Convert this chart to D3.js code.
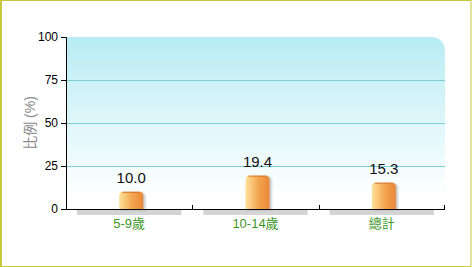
<!DOCTYPE html>
<html>
<head>
<meta charset="utf-8">
<script src="https://cdn.jsdelivr.net/npm/d3@7"></script>
<style>
  html, body { margin: 0; padding: 0; background: #fff; }
  svg { display: block; font-family: "Liberation Sans", Arial, "Noto Sans CJK TC", sans-serif; }
</style>
</head>
<body>
<div id="chart"></div>
<script>
// chart data
var categories = ['5-9歲', '10-14歲', '總計'];
var values = [10.0, 19.4, 15.3];
var yTicks = [0, 25, 50, 75, 100];
var yTitle = '比例 (%)';

var gConfig = {
    width : 472,
    height : 267,
    margin : { top : 37, right : 27, bottom : 58, left : 66 }
};

function drawChart(){
    var w = gConfig.width, h = gConfig.height, m = gConfig.margin;
    var plotW = w - m.left - m.right,
        plotH = h - m.top - m.bottom;

    var svg = d3.select('#chart').append('svg')
        .attr('width', w)
        .attr('height', h);

    var defs = svg.append('defs');

    var bg = defs.append('linearGradient').attr('id', 'bg-grad')
        .attr('x1', 0).attr('y1', 0).attr('x2', 0).attr('y2', 1);
    bg.append('stop').attr('offset', '0%').attr('stop-color', '#b8ecf3');
    bg.append('stop').attr('offset', '92%').attr('stop-color', '#ffffff');

    var barGrad = defs.append('linearGradient').attr('id', 'bar-grad')
        .attr('x1', 0).attr('y1', 0).attr('x2', 1).attr('y2', 0);
    barGrad.append('stop').attr('offset', '0%').attr('stop-color', '#fde29a');
    barGrad.append('stop').attr('offset', '55%').attr('stop-color', '#f3a44e');
    barGrad.append('stop').attr('offset', '100%').attr('stop-color', '#e8883a');

    var blur = defs.append('filter').attr('id', 'shadow')
        .attr('x', '-50%').attr('y', '-20%').attr('width', '200%').attr('height', '140%');
    blur.append('feGaussianBlur').attr('stdDeviation', 1);

    // outer border
    svg.append('rect')
        .attr('x', 0.5).attr('y', 0.5)
        .attr('width', w - 1.5).attr('height', h - 1)
        .attr('fill', 'none')
        .attr('stroke', '#c8c83c')
        .attr('stroke-width', 1);
    svg.append('line')
        .attr('x1', 1.5).attr('x2', 1.5).attr('y1', 0).attr('y2', h)
        .attr('stroke', '#c8c83c');

    var x = d3.scaleBand().domain(categories).range([0, plotW]);
    var y = d3.scaleLinear().domain([0, 100]).range([plotH, 0]);

    var g = svg.append('g').attr('transform', 'translate(' + m.left + ',' + m.top + ')');

    // background with rounded top-right corner
    var r = 15;
    g.append('path')
        .attr('d', 'M0,0 H' + (plotW - r) + ' Q' + plotW + ',0 ' + plotW + ',' + r +
                   ' V' + plotH + ' H0 Z')
        .attr('fill', 'url(#bg-grad)');

    // gridlines
    g.selectAll('.grid').data(yTicks.filter(function(d){ return d > 0 && d < 100; }))
        .enter().append('line')
        .attr('x1', 0).attr('x2', plotW)
        .attr('y1', function(d){ return Math.round(y(d)) + 0.5; })
        .attr('y2', function(d){ return Math.round(y(d)) + 0.5; })
        .attr('stroke', '#7ccfd8');

    // grey strips under each category
    g.selectAll('.strip').data(categories)
        .enter().append('rect')
        .attr('x', function(d){ return x(d) + 11; })
        .attr('y', plotH + 1)
        .attr('width', x.bandwidth() - 22)
        .attr('height', 5)
        .attr('fill', '#d4d4d4');

    var barW = 24;
    var bars = g.selectAll('.bar').data(values).enter().append('g');

    function barPath(d, i, rad){
        var x0 = x(categories[i]) + x.bandwidth() / 2 - barW / 2 + 2,
            y0 = y(d), x1 = x0 + barW, y1 = plotH;
        return 'M' + x0 + ',' + y1 + ' V' + (y0 + rad) +
               ' Q' + x0 + ',' + y0 + ' ' + (x0 + rad) + ',' + y0 +
               ' H' + (x1 - rad) + ' Q' + x1 + ',' + y0 + ' ' + x1 + ',' + (y0 + rad) +
               ' V' + y1 + ' Z';
    }

    bars.append('path')
        .attr('d', function(d, i){ return barPath(d, i, 4); })
        .attr('transform', 'translate(2,1)')
        .attr('fill', '#999')
        .attr('opacity', 0.6)
        .attr('filter', 'url(#shadow)');

    bars.append('path')
        .attr('d', function(d, i){ return barPath(d, i, 4); })
        .attr('fill', 'url(#bar-grad)');

    bars.append('line')
        .attr('x1', function(d, i){ return x(categories[i]) + x.bandwidth() / 2 - barW / 2 + 5; })
        .attr('x2', function(d, i){ return x(categories[i]) + x.bandwidth() / 2 + barW / 2 - 1; })
        .attr('y1', function(d){ return y(d) + 0.5; })
        .attr('y2', function(d){ return y(d) + 0.5; })
        .attr('stroke', '#d9772e')
        .attr('stroke-width', 1);

    // value labels
    g.selectAll('.val').data(values)
        .enter().append('text')
        .attr('x', function(d, i){ return x(categories[i]) + x.bandwidth() / 2 + 2; })
        .attr('y', function(d){ return y(d) - 9; })
        .attr('text-anchor', 'middle')
        .attr('font-size', '15px')
        .attr('fill', '#111')
        .text(function(d){ return d.toFixed(1); });

    // y axis
    var yAxis = g.append('g')
        .call(d3.axisLeft(y).tickValues(yTicks).tickSize(5).tickPadding(3));
    yAxis.select('.domain').attr('stroke', '#000');
    yAxis.selectAll('.tick line').attr('stroke', '#000');
    yAxis.selectAll('.tick text')
        .attr('font-size', '12px')
        .attr('font-family', '"Liberation Sans", Arial, sans-serif')
        .attr('fill', '#000');

    // x axis line and inner ticks
    g.append('line')
        .attr('x1', 0).attr('x2', plotW)
        .attr('y1', plotH + 0.5).attr('y2', plotH + 0.5)
        .attr('stroke', '#000');
    g.selectAll('.xtick').data(categories.slice(1).concat(['end']))
        .enter().append('line')
        .attr('x1', function(d){ return d === 'end' ? plotW - 0.5 : Math.round(x(d)) + 0.5; })
        .attr('x2', function(d){ return d === 'end' ? plotW - 0.5 : Math.round(x(d)) + 0.5; })
        .attr('y1', plotH - 4).attr('y2', plotH)
        .attr('stroke', '#000');

    // category labels
    g.selectAll('.cat').data(categories)
        .enter().append('text')
        .attr('x', function(d){ return x(d) + x.bandwidth() / 2; })
        .attr('y', plotH + 19)
        .attr('text-anchor', 'middle')
        .attr('font-size', '13px')
        .attr('font-family', '"Liberation Sans", Arial, "Noto Sans CJK TC", sans-serif')
        .attr('fill', '#3c962a')
        .text(function(d){ return d; });

    // y title
    svg.append('text')
        .attr('transform', 'translate(35,' + (m.top + plotH / 2) + ') rotate(-90)')
        .attr('text-anchor', 'middle')
        .attr('font-size', '14px')
        .attr('fill', '#8a8a8a')
        .text(yTitle);
}

drawChart();
</script>
</body>
</html>
